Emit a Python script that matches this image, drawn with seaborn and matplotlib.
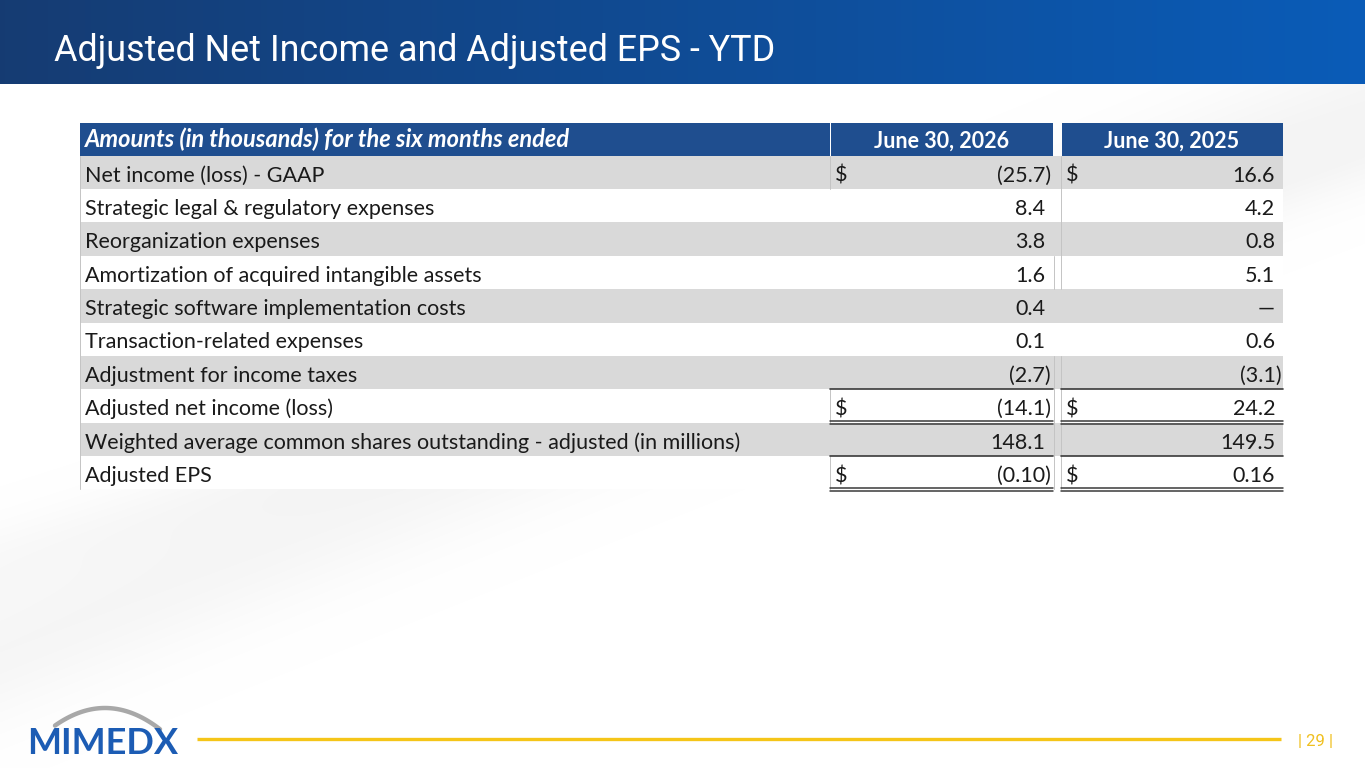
import numpy as np
import matplotlib
matplotlib.use("Agg")
import matplotlib.pyplot as plt
import seaborn as sns

# ---- data -------------------------------------------------------------
title = "Adjusted Net Income and Adjusted EPS - YTD"
header_label = "Amounts (in thousands) for the six months ended"
periods = ["June 30, 2026", "June 30, 2025"]
row_labels = [
    "Net income (loss) - GAAP",
    "Strategic legal & regulatory expenses",
    "Reorganization expenses",
    "Amortization of acquired intangible assets",
    "Strategic software implementation costs",
    "Transaction-related expenses",
    "Adjustment for income taxes",
    "Adjusted net income (loss)",
    "Weighted average common shares outstanding - adjusted (in millions)",
    "Adjusted EPS",
]
values_2026 = [-25.7, 8.4, 3.8, 1.6, 0.4, 0.1, -2.7, -14.1, 148.1, -0.10]
values_2025 = [16.6, 4.2, 0.8, 5.1, None, 0.6, -3.1, 24.2, 149.5, 0.16]
decimals = [1, 1, 1, 1, 1, 1, 1, 1, 1, 2]
dollar_rows = [0, 7, 9]
single_rule_rows = [6, 8]
double_rule_rows = [7, 9]
logo_text = "MIMEDX"
page_number = "29"

# ---- style ------------------------------------------------------------
sns.set_theme(style="white")
plt.rcParams["font.family"] = ["Lato", "DejaVu Sans"]

W, H = 1365, 768
fig = plt.figure(figsize=(W / 100, H / 100), dpi=100)
ax = fig.add_axes([0, 0, 1, 1])
ax.set_xlim(0, W)
ax.set_ylim(H, 0)
ax.axis("off")

# faint background swoosh
yy, xx = np.mgrid[0:H, 0:W]
band = np.exp(-((yy - (650 - 0.40 * xx)) / 70.0) ** 2) * 0.9
band += np.exp(-((yy - (560 - 0.30 * xx)) / 40.0) ** 2) * 0.5
bg = np.ones((H, W, 4))
bg[..., :3] = 0.80
bg[..., 3] = np.clip(band, 0, 1) * 0.2
ax.imshow(bg, extent=[0, W, H, 0], zorder=0, aspect="auto")

# header band with gradient
grad = np.linspace(0, 1, 256)
left_c = np.array([0.085, 0.235, 0.45])
right_c = np.array([0.04, 0.36, 0.72])
strip = left_c[None, :] * (1 - grad[:, None]) + right_c[None, :] * grad[:, None]
ax.imshow(strip[None, :, :], extent=[0, W, 84, 0], aspect="auto", zorder=1)
ax.text(54, 61, title, color="white", fontsize=25.8, family=["Roboto", "DejaVu Sans"],
        va="baseline", ha="left", zorder=2)

# ---- table ------------------------------------------------------------
t_left, t_right = 80, 1283
head_top, head_bot = 122.7, 155.5
row_h = 33.4
cols = [(830, 1053), (1061, 1283)]
digit_end = [1045, 1275]
paren_end = [1051, 1282]
head_blue = "#1f4e8f"
grey = "#d9d9d9"
fs = 15.5

# header cells
ax.add_patch(plt.Rectangle((t_left, head_top), cols[0][0] - t_left, head_bot - head_top,
                           color=head_blue, zorder=2, lw=0))
for (c0, c1) in cols:
    ax.add_patch(plt.Rectangle((c0 + 1, head_top), c1 - c0 - 1, head_bot - head_top,
                               color=head_blue, zorder=2, lw=0))
ax.text(85, head_bot - 8, header_label, color="white", fontsize=17, fontweight="bold",
        fontstyle="italic", va="baseline", zorder=3)
for (c0, c1), p in zip(cols, periods):
    ax.text((c0 + c1) / 2, head_bot - 8, p, color="white", fontsize=fs, fontweight="bold",
            ha="center", va="baseline", zorder=3)


def fmt(v, d):
    if v is None:
        return "\u2014", False
    s = f"{abs(v):.{d}f}"
    return (f"({s})", True) if v < 0 else (s, False)


for i, lab in enumerate(row_labels):
    top = head_bot + i * row_h
    ax.add_patch(plt.Rectangle((t_left, top), t_right - t_left, row_h,
                               color=grey if i % 2 == 0 else "white", zorder=2, lw=0))
    base = top + 26
    ax.text(85, base, lab, color="#1a1a1a", fontsize=fs, va="baseline", zorder=3)
    for k, vals in enumerate([values_2026, values_2025]):
        txt, neg = fmt(vals[i], decimals[i])
        x = paren_end[k] if neg else digit_end[k]
        ax.text(x, base, txt, color="#1a1a1a", fontsize=fs, ha="right", va="baseline", zorder=3)
        if i in dollar_rows:
            ax.text(cols[k][0] + 5, base, "$", color="#1a1a1a", fontsize=fs, va="baseline", zorder=3)
    bottom = top + row_h
    for (c0, c1) in cols:
        if i in single_rule_rows:
            ax.plot([c0, c1], [bottom, bottom], color="#3a3a3a", lw=1.2, zorder=4)
        if i in double_rule_rows:
            ax.plot([c0, c1], [bottom - 1.8, bottom - 1.8], color="#3a3a3a", lw=1.1, zorder=4)
            ax.plot([c0, c1], [bottom + 1.6, bottom + 1.6], color="#3a3a3a", lw=1.1, zorder=4)

# faint cell borders
def vline(x, rows):
    for i in rows:
        top = head_bot + i * row_h
        ax.plot([x, x], [top, top + row_h], color="#c4c4c4", lw=0.7, zorder=3)

vline(t_left, range(len(row_labels)))
vline(cols[0][0], [0, 7, 9])
vline(cols[0][1] + 1, [3, 6, 7, 8, 9])
vline(cols[1][0], [0, 1, 2, 3, 6, 7, 8, 9])

# ---- footer -----------------------------------------------------------
ax.plot([197, 1281], [739, 739], color="#f5c518", lw=2.4, solid_capstyle="butt", zorder=2)
ax.text(1316, 742, f"| {page_number} |", color="#f0c020", fontsize=12,
        family=["Roboto", "DejaVu Sans"], ha="center", va="center", zorder=2)

# logo
arc_x = np.linspace(55, 160, 60)
arc_y = 708 + 19 * ((arc_x - 105) / 52) ** 2
ax.plot(arc_x, arc_y, color="#a8a8a8", lw=3.2, solid_capstyle="round", zorder=2)
ax.text(27, 754, logo_text, color="#1c5cb4", fontsize=26, fontweight="bold",
        family=["Lato", "DejaVu Sans"], va="baseline", zorder=3)

fig.savefig("out.png", dpi=100)
